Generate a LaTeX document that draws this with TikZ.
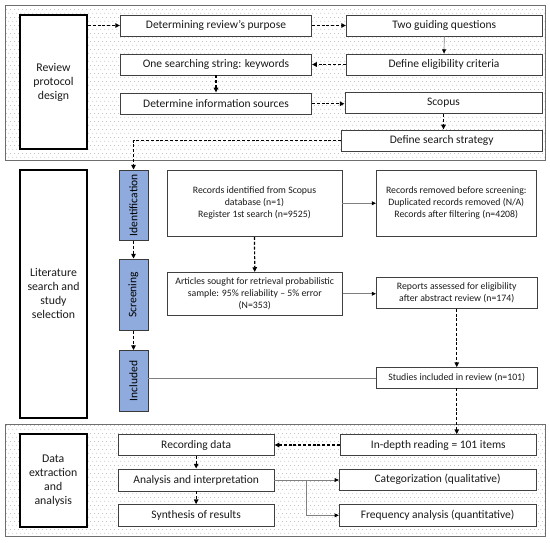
\documentclass[tikz,border=0pt]{standalone}
\usepackage{fontspec}
\setmainfont{Carlito}
\usetikzlibrary{arrows.meta,patterns.meta,calc}
\definecolor{boxgray}{HTML}{404040}
\definecolor{textc}{HTML}{1A1A1A}
\definecolor{stageblue}{HTML}{8FAADC}
\definecolor{stageborder}{HTML}{3A3A3A}
\definecolor{paneledge}{HTML}{6E6E6E}
\tikzdeclarepattern{name=paneldots, type=uncolored,
  bounding box={(0pt,0pt) and (4pt,8pt)}, tile size={(4pt,8pt)},
  code={\pgfpathcircle{\pgfpoint{1pt}{2pt}}{0.45pt}
        \pgfpathcircle{\pgfpoint{3pt}{6pt}}{0.45pt}
        \pgfusepath{fill}}}
\tikzset{
  panel/.style={draw=paneledge, line width=0.8pt, pattern={paneldots}, pattern color=gray!85},
  box/.style={draw=boxgray, line width=0.9pt, fill=white, inner sep=0pt, align=center,
    text=textc, font=\fontsize{11.5}{13.5}\selectfont},
  smallbox/.style={box, font=\fontsize{9.8}{12}\selectfont},
  labelbox/.style={draw=black, line width=2pt, fill=white, inner sep=0pt, align=center,
    text=textc, font=\fontsize{11.8}{14}\selectfont},
  stagebox/.style={draw=stageborder, line width=0.8pt, fill=stageblue, inner sep=0pt,
    align=center, text=black, font=\fontsize{11.5}{12}\selectfont},
  dasharrow/.style={draw=black, line width=1.2pt, dash pattern=on 3pt off 1.8pt,
    -{Triangle[length=4.8pt,width=4.4pt]}},
  grayarrow/.style={draw=gray, line width=0.7pt,
    -{Triangle[length=4.2pt,width=3.8pt,color=black]}},
  grayline/.style={draw=gray, line width=0.7pt}
}
\begin{document}
\begin{tikzpicture}[x=1pt,y=-1pt]
\useasboundingbox (0,0) rectangle (550,543);
% panels
\path[panel] (5,5) rectangle (545.5,160.5);
\path[panel] (5,424.3) rectangle (545.5,536.5);

% top panel
\node[labelbox, minimum width=67pt, minimum height=134pt] (rpd) at (53.5,82) {Review\\protocol\\design};
\node[box, minimum width=191pt, minimum height=21pt] (p1) at (216,25.5) {Determining review’s purpose};
\node[box, minimum width=195.5pt, minimum height=21pt] (p2) at (444.25,25.5) {Two guiding questions};
\node[box, minimum width=196pt, minimum height=21pt] (p3) at (444,64.5) {Define eligibility criteria};
\node[box, minimum width=191pt, minimum height=21pt] (p4) at (216,64.5) {One searching string: keywords};
\node[box, minimum width=191pt, minimum height=21.5pt] (p5) at (216,103.75) {Determine information sources};
\node[box, minimum width=197pt, minimum height=21pt] (p6) at (443.5,103) {Scopus};
\node[box, minimum width=200.5pt, minimum height=21.5pt] (p7) at (441.75,140.75) {Define search strategy};

% middle section
\node[labelbox, minimum width=67pt, minimum height=247.5pt] (lss) at (53.5,293.75) {Literature\\search and\\study\\selection};
\node[stagebox, minimum width=29pt, minimum height=70.5pt] (ident) at (133.5,205.25) {\rotatebox{90}{Identification}};
\node[stagebox, minimum width=29pt, minimum height=71.5pt] (screen) at (133.5,294.75) {\rotatebox{90}{Screening}};
\node[stagebox, minimum width=29pt, minimum height=60.8pt] (incl) at (133.5,380.9) {\rotatebox{90}{Included}};
\node[smallbox, minimum width=175pt, minimum height=66.5pt] (m1) at (254.5,203.25) {Records identified from Scopus\\database (n=1)\\Register 1st search (n=9525)};
\node[smallbox, minimum width=159.5pt, minimum height=66pt] (m2) at (456.25,203) {Records removed before screening:\\Duplicated records removed (N/A)\\Records after filtering (n=4208)};
\node[smallbox, minimum width=175.5pt, minimum height=42.5pt] (m3) at (254.75,293.75) {Articles sought for retrieval probabilistic\\sample: 95\% reliability – 5\% error\\(N=353)};
\node[smallbox, minimum width=160.5pt, minimum height=30.8pt] (m4) at (456.75,292.9) {Reports assessed for eligibility\\after abstract review (n=174)};
\node[smallbox, minimum width=160.5pt, minimum height=20.3pt] (m5) at (456.75,377.85) {Studies included in review (n=101)};

% bottom panel
\node[labelbox, minimum width=67.5pt, minimum height=93pt] (dea) at (53.25,480.5) {Data\\extraction\\and\\analysis};
\node[box, minimum width=155.7pt, minimum height=20.6pt] (b1) at (196.15,445) {Recording data};
\node[box, minimum width=196.7pt, minimum height=20.6pt] (b2) at (438.35,445) {In-depth reading = 101 items};
\node[box, minimum width=155.7pt, minimum height=22pt] (b3) at (196.15,480) {Analysis and interpretation};
\node[box, minimum width=196.7pt, minimum height=21pt] (b4) at (437.65,479.5) {Categorization (qualitative)};
\node[box, minimum width=155.7pt, minimum height=21.3pt] (b5) at (196.15,515.35) {Synthesis of results};
\node[box, minimum width=196.7pt, minimum height=21.3pt] (b6) at (437.65,515.35) {Frequency analysis (quantitative)};

% connectors top
\draw[dasharrow] (rpd.east |- p1.west) -- (p1.west);
\draw[dasharrow] (p1.east) -- (p2.west);
\draw[grayarrow] (p2.south) -- (p3.north);
\draw[dasharrow] (p3.west) -- (p4.east);
\draw[dasharrow] (p4.south) -- (p5.north);
\draw[dasharrow] (p5.east) -- (p5.east -| p6.west);
\draw[dasharrow] (p6.south) -- (p6.south |- p7.north);
\draw[dasharrow] (p7.west) -| (ident.north);

% connectors middle
\draw[dasharrow] (ident.south) -- (screen.north);
\draw[dasharrow] (screen.south) -- (incl.north);
\draw[grayarrow] (m1.east) -- (m1.east -| m2.west);
\draw[dasharrow] (m1.south) -- (m3.north);
\draw[grayarrow] (m3.east) -- (m3.east -| m4.west);
\draw[dasharrow] (m4.south) -- (m5.north);
\draw[grayline] (incl.east |- m5.west) -- (m5.west);

% connectors bottom
\draw[dasharrow] (m5.south) -- (m5.south |- b2.north);
\draw[dasharrow] (b2.west) -- (b1.east);
\draw[dasharrow] (b1.south) -- (b3.north);
\draw[dasharrow] (b3.south) -- (b5.north);
\draw[grayarrow] (b3.east) -- (b3.east -| b4.west);
\coordinate (br) at ($(b3.east)!0.5!(b3.east -| b4.west)$);
\draw[grayarrow] (br) |- (b6.west);
\end{tikzpicture}
\end{document}
